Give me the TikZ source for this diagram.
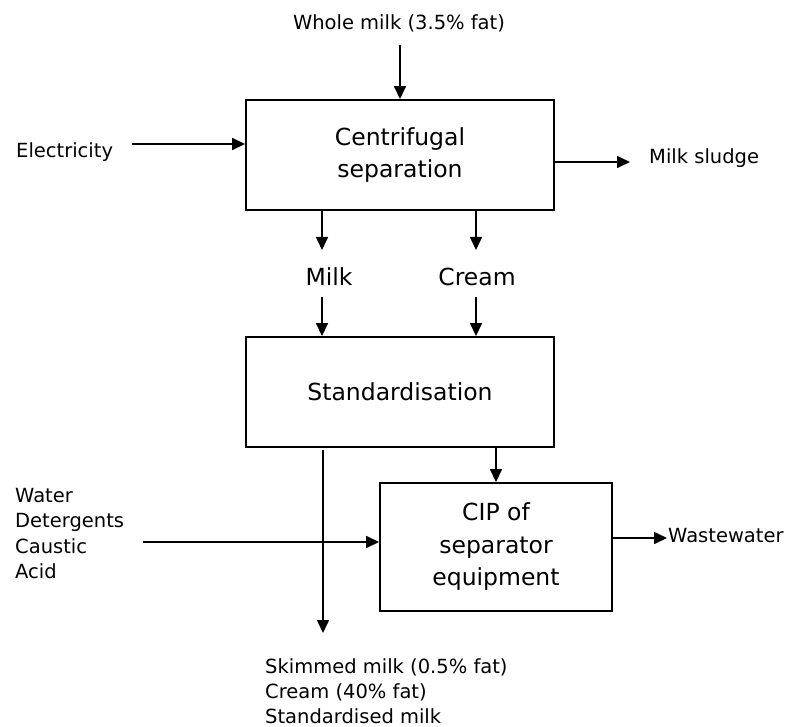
\documentclass[tikz,border=0pt]{standalone}
\usepackage{fontspec}
\setmainfont{DejaVu Sans}
\usetikzlibrary{arrows.meta}
\begin{document}
\begin{tikzpicture}[x=1pt,y=-1pt,
  box/.style={draw,line width=1.9pt,inner sep=0pt},
  arr/.style={line width=1.6pt,-{Triangle[length=13pt,width=12pt]}},
  small/.style={font=\fontsize{19.5}{25.3}\selectfont,inner sep=0pt},
  big/.style={font=\fontsize{23.5}{32.5}\selectfont,inner sep=0pt,align=center}]
\useasboundingbox (0,0) rectangle (792,727);
% boxes
\node[box,minimum width=308pt,minimum height=110pt] (cs) at (400,155) {};
\node[big] (cst) at (400,155) {Centrifugal\\separation};
\node[box,minimum width=308pt,minimum height=110pt] (st) at (400,392) {};
\node[big] (stt) at (400,392) {Standardisation};
\node[box,minimum width=232pt,minimum height=128pt] (cip) at (496,547) {};
\node[big] (cipt) at (496,547) {CIP of\\separator\\equipment};
% labels
\node[small,anchor=base] (wm) at (399,30) {Whole milk (3.5\% fat)};
\node[small,anchor=base west] (el) at (16,158) {Electricity};
\node[small,anchor=base west] (ms) at (649,164) {Milk sludge};
\node[big,anchor=base] (mk) at (329,286) {Milk};
\node[big,anchor=base] (cr) at (477,286) {Cream};
\node[small,anchor=north west,align=left] (ch) at (15,488) {Water\\Detergents\\Caustic\\Acid};
\node[small,anchor=base west] (ww) at (668,542) {Wastewater};
\node[small,anchor=north west,align=left] (out) at (265,658) {Skimmed milk (0.5\% fat)\\Cream (40\% fat)\\Standardised milk};
% coordinates
\coordinate (wmA) at (400,45);
\coordinate (elA) at (132,144);
\coordinate (msB) at (630,162);
\coordinate (mkA) at (322,210);
\coordinate (mkB) at (322,250);
\coordinate (mkC) at (322,297);
\coordinate (crA) at (476,210);
\coordinate (crB) at (476,250);
\coordinate (crC) at (476,297);
\coordinate (skA) at (323,450);
\coordinate (skB) at (323,633);
\coordinate (cipA) at (496,447);
\coordinate (chA) at (143,542);
\coordinate (wwB) at (667,538);
% connectors
\draw[arr] (wmA) -- (wmA |- cs.north);
\draw[arr] (elA) -- (elA -| cs.west);
\draw[arr] (msB -| cs.east) -- (msB);
\draw[arr] (mkA) -- (mkB);
\draw[arr] (crA) -- (crB);
\draw[arr] (mkC) -- (mkC |- st.north);
\draw[arr] (crC) -- (crC |- st.north);
\draw[arr] (skA) -- (skB);
\draw[arr] (cipA) -- (cip.north);
\draw[arr] (chA) -- (chA -| cip.west);
\draw[arr] (wwB -| cip.east) -- (wwB);
\end{tikzpicture}
\end{document}
